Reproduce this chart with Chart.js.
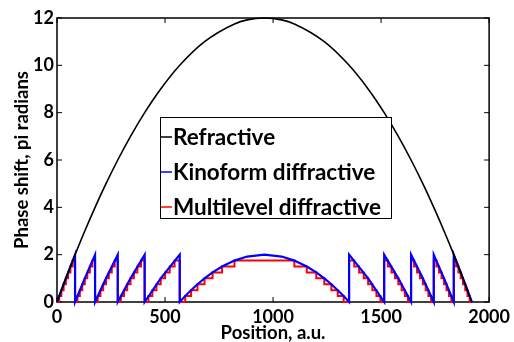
<!DOCTYPE html>
<html>
<head>
<meta charset="utf-8">
<script src="https://cdn.jsdelivr.net/npm/chart.js@4.4.1/dist/chart.umd.min.js"></script>
<style>
  html, body { margin: 0; padding: 0; background: #fff; }
  #wrap { width: 514px; height: 342px; position: relative; }
</style>
</head>
<body>
<div id="wrap"><canvas id="chart"></canvas></div>
<script>
// Refractive lens profile
const refPos = [0, 40.9, 83.6, 128.6, 176.2, 226.8, 281.2, 340.3, 405.7, 480, 568.1, 682.9, 821.4,
    880, 960, 1040, 1098.6, 1237.1, 1351.9, 1440, 1514.3, 1579.7, 1638.8, 1693.2, 1743.8, 1791.4, 1836.4, 1879.1, 1920];
const refPhase = [0, 1, 2, 3, 4, 5, 6, 7, 8, 9, 10, 11, 11.75,
    11.92, 12, 11.92, 11.75, 11, 10, 9, 8, 7, 6, 5, 4, 3, 2, 1, 0];

// Kinoform diffractive (phase wrapped at 2 pi)
const kinoPos = [0, 40.9, 83.6, 83.6, 128.6, 176.2, 176.2, 226.8, 281.2, 281.2, 340.3, 405.7, 405.7, 480, 568.1, 568.1,
    593.4, 620.6, 650.2, 682.9, 720, 764, 821.4, 880, 960, 1040, 1098.6, 1156, 1200, 1237.1, 1269.8, 1299.4, 1326.6, 1351.9,
    1351.9, 1440, 1514.3, 1514.3, 1579.7, 1638.8, 1638.8, 1693.2, 1743.8, 1743.8, 1791.4, 1836.4, 1836.4, 1879.1, 1920];
const kinoPhase = [0, 1, 2, 0, 1, 2, 0, 1, 2, 0, 1, 2, 0, 1, 2, 0,
    0.25, 0.5, 0.75, 1, 1.25, 1.5, 1.75, 1.92, 2, 1.92, 1.75, 1.5, 1.25, 1, 0.75, 0.5, 0.25, 0,
    2, 1, 0, 2, 1, 0, 2, 1, 0, 2, 1, 0, 2, 1, 0];

// Multilevel diffractive: positions where the level changes, and the new level
const multiPos = [0,
    10.1, 20.2, 30.5, 40.9, 51.4, 62.0, 72.8, 83.6,
    94.7, 105.8, 117.1, 128.6, 140.2, 152.0, 164.0, 176.2,
    188.5, 201.1, 213.8, 226.8, 240.0, 253.5, 267.2, 281.2,
    295.5, 310.1, 325.0, 340.3, 356.0, 372.1, 388.7, 405.7,
    423.3, 441.5, 460.4, 480.0, 500.4, 521.8, 544.3, 568.1,
    593.4, 620.6, 650.2, 682.9, 720.0, 764.0, 821.4,
    1098.6, 1156.0, 1200.0, 1237.1, 1269.8, 1299.4, 1326.6,
    1351.9, 1375.7, 1398.2, 1419.6, 1440.0, 1459.6, 1478.5, 1496.7,
    1514.3, 1531.3, 1547.9, 1564.0, 1579.7, 1595.0, 1609.9, 1624.5,
    1638.8, 1652.8, 1666.5, 1680.0, 1693.2, 1706.2, 1718.9, 1731.5,
    1743.8, 1756.0, 1768.0, 1779.8, 1791.4, 1802.9, 1814.2, 1825.3,
    1836.4, 1847.2, 1858.0, 1868.6, 1879.1, 1889.5, 1899.8, 1909.9,
    1920];
const multiLevel = [0,
    0.25, 0.5, 0.75, 1, 1.25, 1.5, 1.75, 0,
    0.25, 0.5, 0.75, 1, 1.25, 1.5, 1.75, 0,
    0.25, 0.5, 0.75, 1, 1.25, 1.5, 1.75, 0,
    0.25, 0.5, 0.75, 1, 1.25, 1.5, 1.75, 0,
    0.25, 0.5, 0.75, 1, 1.25, 1.5, 1.75, 0,
    0.25, 0.5, 0.75, 1, 1.25, 1.5, 1.75,
    1.5, 1.25, 1, 0.75, 0.5, 0.25, 0,
    1.75, 1.5, 1.25, 1, 0.75, 0.5, 0.25, 0,
    1.75, 1.5, 1.25, 1, 0.75, 0.5, 0.25, 0,
    1.75, 1.5, 1.25, 1, 0.75, 0.5, 0.25, 0,
    1.75, 1.5, 1.25, 1, 0.75, 0.5, 0.25, 0,
    1.75, 1.5, 1.25, 1, 0.75, 0.5, 0.25, 0,
    0];

const seriesNames = ['Refractive', 'Kinoform diffractive', 'Multilevel diffractive'];
const xTicks = [0, 500, 1000, 1500, 2000];
const yTicks = [0, 2, 4, 6, 8, 10, 12];

const FONT = 'Lato, "Open Sans", sans-serif';

const toPoints = (xs, ys) => xs.map((x, i) => ({ x: x, y: ys[i] }));

// axes box with inward ticks, MATLAB style
const boxPlugin = {
    id: 'axesBox',
    beforeDatasetsDraw(chart) {
        const { ctx, chartArea, scales } = chart;
        const { top, bottom, left, right } = chartArea;
        ctx.save();
        ctx.strokeStyle = '#000';
        ctx.lineWidth = 1.5;
        ctx.strokeRect(left, top, right - left, bottom - top);
        ctx.lineWidth = 1;
        ctx.beginPath();
        xTicks.forEach((v) => {
            const px = scales.x.getPixelForValue(v);
            ctx.moveTo(px, bottom); ctx.lineTo(px, bottom - 5);
            ctx.moveTo(px, top); ctx.lineTo(px, top + 5);
        });
        yTicks.forEach((v) => {
            const py = scales.y.getPixelForValue(v);
            ctx.moveTo(left, py); ctx.lineTo(left + 5, py);
            ctx.moveTo(right, py); ctx.lineTo(right - 5, py);
        });
        ctx.stroke();
        ctx.restore();
    },
};

// boxed legend in the middle of the plot
const legendPlugin = {
    id: 'boxLegend',
    afterDraw(chart) {
        const { ctx } = chart;
        const bx = 160, by = 117, bw = 231, bh = 101;
        ctx.save();
        ctx.fillStyle = '#fff';
        ctx.fillRect(bx, by, bw, bh);
        ctx.strokeStyle = '#000';
        ctx.lineWidth = 1;
        ctx.strokeRect(bx + 0.5, by + 0.5, bw, bh);
        ctx.font = `bold 22.5px ${FONT}`;
        ctx.textBaseline = 'middle';
        chart.data.datasets.forEach((ds, i) => {
            const y = 137 + i * 35;
            ctx.strokeStyle = ds.borderColor;
            ctx.lineWidth = 1.5;
            ctx.beginPath();
            ctx.moveTo(bx + 1, y);
            ctx.lineTo(bx + 12, y);
            ctx.stroke();
            ctx.fillStyle = '#000';
            ctx.fillText(ds.label, bx + 13, y + 1);
        });
        ctx.restore();
    },
};

new Chart(document.getElementById('chart'), {
    type: 'line',
    data: {
        datasets: [
            {
                label: seriesNames[0],
                data: toPoints(refPos, refPhase),
                borderColor: '#000000',
                borderWidth: 1.6,
                cubicInterpolationMode: 'monotone',
                pointRadius: 0,
                clip: false,
            },
            {
                label: seriesNames[1],
                data: toPoints(kinoPos, kinoPhase),
                borderColor: '#0000ff',
                borderWidth: 2.2,
                tension: 0,
                pointRadius: 0,
                clip: false,
            },
            {
                label: seriesNames[2],
                data: toPoints(multiPos, multiLevel),
                borderColor: '#ff0000',
                borderWidth: 2,
                stepped: true,
                pointRadius: 0,
                clip: false,
            },
        ],
    },
    options: {
        responsive: true,
        maintainAspectRatio: false,
        animation: false,
        layout: {
            padding: { top: 18, right: 21, left: 0, bottom: 0 },
        },
        plugins: {
            legend: { display: false },
            tooltip: { enabled: false },
        },
        scales: {
            x: {
                type: 'linear',
                min: 0,
                max: 2000,
                afterBuildTicks: (scale) => { scale.ticks = xTicks.map((v) => ({ value: v })); },
                afterFit: (scale) => { scale.height = 40; },
                ticks: {
                    color: '#000',
                    padding: 4,
                    maxRotation: 0,
                    callback: (v) => String(v),
                    font: { family: FONT, size: 18, weight: 'bold' },
                },
                grid: { display: false, drawTicks: false },
                border: { display: false },
                title: {
                    display: true,
                    text: 'Position, a.u.',
                    color: '#000',
                    padding: 0,
                    font: { family: FONT, size: 18.5, weight: 'bold', lineHeight: 1 },
                },
            },
            y: {
                min: 0,
                max: 12,
                afterBuildTicks: (scale) => { scale.ticks = yTicks.map((v) => ({ value: v })); },
                afterFit: (scale) => { scale.width = 57; },
                ticks: {
                    color: '#000',
                    padding: 3,
                    callback: (v) => String(v),
                    font: { family: FONT, size: 18, weight: 'bold' },
                },
                grid: { display: false, drawTicks: false },
                border: { display: false },
                title: {
                    display: true,
                    text: 'Phase shift, pi radians',
                    color: '#000',
                    padding: { top: 13, bottom: 0 },
                    font: { family: FONT, size: 18.5, weight: 'bold', lineHeight: 1 },
                },
            },
        },
    },
    plugins: [boxPlugin, legendPlugin],
});
</script>
</body>
</html>
